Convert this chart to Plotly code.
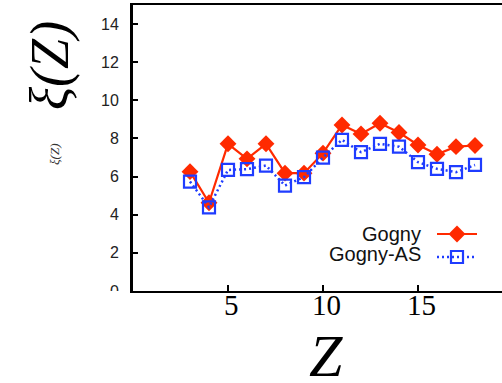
import plotly.graph_objects as go

# Proton number and the two ξ(Z) curves
Z = [3, 4, 5, 6, 7, 8, 9, 10, 11, 12, 13, 14, 15, 16, 17, 18]
xi_gogny = [6.26, 4.63, 7.72, 6.93, 7.72, 6.18, 6.18, 7.23, 8.71, 8.24, 8.80, 8.31, 7.66, 7.17, 7.57, 7.63]
xi_gogny_as = [5.74, 4.39, 6.35, 6.39, 6.58, 5.53, 5.97, 7.00, 7.93, 7.28, 7.72, 7.57, 6.76, 6.41, 6.23, 6.61]

x_ticks = [5, 10, 15]
y_ticks = [0, 2, 4, 6, 8, 10, 12, 14]
series_names = ["Gogny", "Gogny-AS"]

RED = "#ff2a00"
BLUE = "#1f3cff"

W, H = 502, 383
L, R, T, B = 133, 0, 5, 92
PW, PH = W - L - R, H - T - B


def px(x):
    return (x - L) / PW


def py(y):
    return (H - B - y) / PH


fig = go.Figure()

fig.add_trace(go.Scatter(
    x=Z, y=xi_gogny, mode="lines+markers", name=series_names[0],
    line=dict(color=RED, width=2.2),
    marker=dict(symbol="diamond", size=13, color=RED),
    showlegend=False, cliponaxis=False,
))
fig.add_trace(go.Scatter(
    x=Z, y=xi_gogny_as, mode="lines+markers", name=series_names[1],
    line=dict(color=BLUE, width=2.5, dash="2px,3px"),
    marker=dict(symbol="square-open", size=12, color=BLUE, line=dict(width=2.2, color=BLUE)),
    showlegend=False, cliponaxis=False,
))

# Legend keys (text on the left, sample on the right) on an overlay axis in [0, 1]
key_x = [px(437), px(457), px(477)]
fig.add_trace(go.Scatter(
    x=key_x, y=[py(234)] * 3, mode="lines", xaxis="x2", yaxis="y2",
    line=dict(color=RED, width=2.2), showlegend=False, hoverinfo="skip",
))
fig.add_trace(go.Scatter(
    x=[key_x[1]], y=[py(234)], mode="markers", xaxis="x2", yaxis="y2",
    marker=dict(symbol="diamond", size=13, color=RED), showlegend=False, hoverinfo="skip",
))
fig.add_trace(go.Scatter(
    x=key_x, y=[py(257)] * 3, mode="lines", xaxis="x2", yaxis="y2",
    line=dict(color=BLUE, width=2.5, dash="2px,3px"), showlegend=False, hoverinfo="skip",
))
fig.add_trace(go.Scatter(
    x=[key_x[1]], y=[py(257)], mode="markers", xaxis="x2", yaxis="y2",
    marker=dict(symbol="square-open", size=12, color=BLUE, line=dict(width=2.2, color=BLUE)),
    showlegend=False, hoverinfo="skip",
))

annotations = [
    dict(text=series_names[0], xref="paper", x=px(423), y=py(234), xanchor="right", yanchor="middle",
         font=dict(family="Liberation Sans, Arial", size=20, color="#111")),
    dict(text=series_names[1], xref="paper", x=px(423), y=py(254), xanchor="right", yanchor="middle",
         font=dict(family="Liberation Sans, Arial", size=20, color="#111")),
    # axis titles
    dict(text="<i>Z</i>", xref="paper", x=px(326), y=py(356), xanchor="center", yanchor="middle",
         font=dict(family="Liberation Serif, Times New Roman", size=60, color="#000")),
    dict(text="<i>ξ(Z)</i>", xref="paper", x=px(50), y=py(66), xanchor="center", yanchor="middle",
         textangle=-90,
         font=dict(family="Liberation Serif, Times New Roman", size=54, color="#000")),
    dict(text="<i>ξ(Z)</i>", xref="paper", x=px(54), y=py(155), xanchor="center", yanchor="middle",
         textangle=-90,
         font=dict(family="Liberation Serif, Times New Roman", size=13, color="#333")),
]
# x tick labels, set just under the axis line
for t in x_ticks:
    annotations.append(dict(
        text=str(t), xref="x", x=t, y=py(305), xanchor="center", yanchor="middle", xshift=3,
        font=dict(family="Liberation Serif, Times New Roman", size=29, color="#000"),
    ))
for a in annotations:
    a.update(yref="paper", showarrow=False)

fig.update_layout(
    width=W, height=H,
    margin=dict(l=L, r=R, t=T, b=B),
    paper_bgcolor="white", plot_bgcolor="white",
    annotations=annotations,
    shapes=[
        # the lowest y tick label sits partly below the frame's bottom edge
        dict(type="rect", xref="paper", yref="paper", x0=-0.3, x1=px(130), y0=-0.2, y1=0.0,
             fillcolor="white", line=dict(width=0), layer="above"),
    ],
    xaxis=dict(
        range=[0, PW / 19.0], tickvals=x_ticks, showticklabels=False,
        ticks="inside", ticklen=6, tickwidth=2,
        tickcolor="black", showline=True, linecolor="black", linewidth=2.2, mirror=True,
        showgrid=False, zeroline=False,
    ),
    yaxis=dict(
        range=[0, 15], tickvals=y_ticks, ticks="inside", ticklen=5, tickwidth=2,
        tickcolor="black", showline=True, linecolor="black", linewidth=3,
        showgrid=False, zeroline=False, ticklabelstandoff=8,
        tickfont=dict(family="Liberation Sans, Arial", size=16, color="#222"),
    ),
    xaxis2=dict(overlaying="x", range=[0, 1], visible=False, anchor="y2"),
    yaxis2=dict(overlaying="y", range=[0, 1], visible=False, anchor="x2"),
)

fig.write_html("out.html")
